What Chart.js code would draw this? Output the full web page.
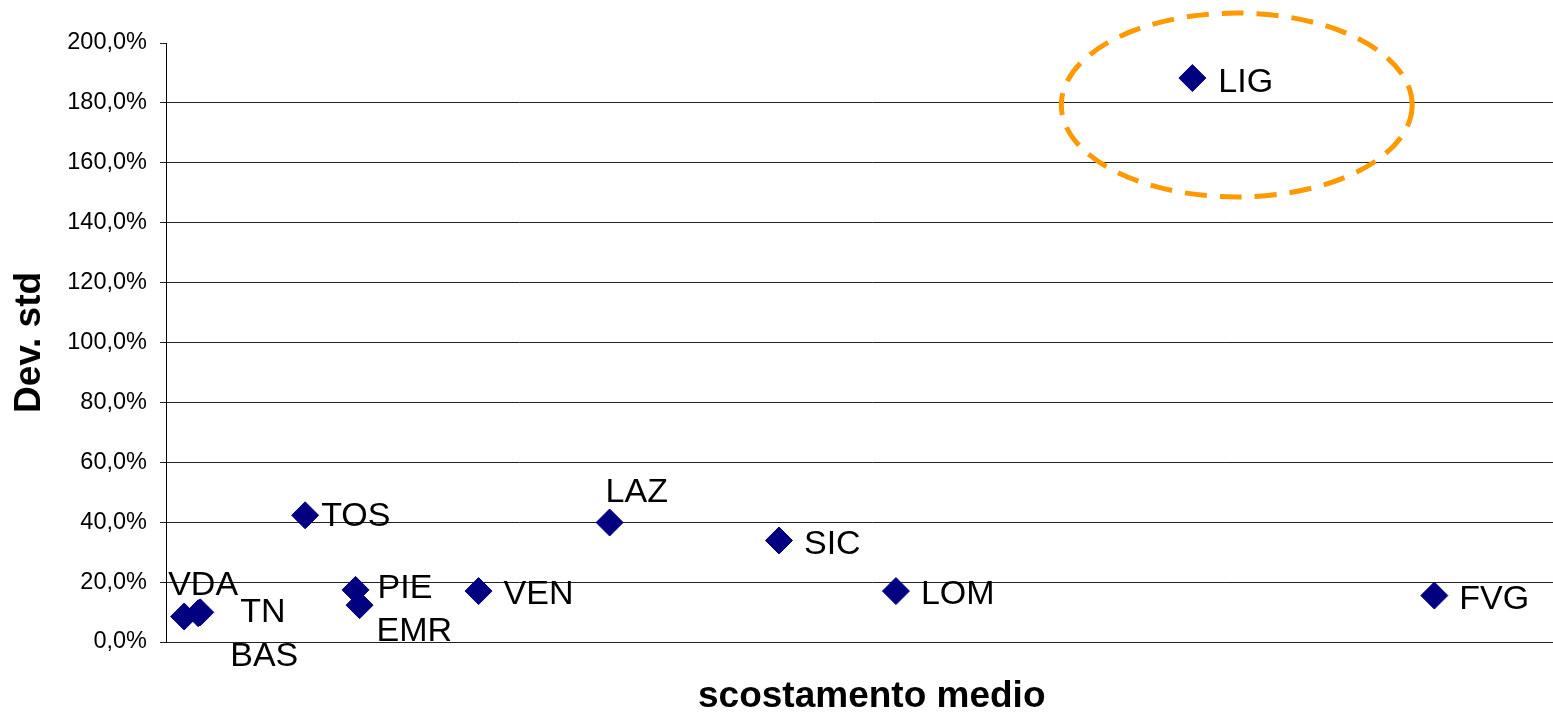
<!DOCTYPE html>
<html>
<head>
<meta charset="utf-8">
<script src="https://cdn.jsdelivr.net/npm/chart.js@4/dist/chart.umd.min.js"></script>
<style>
  html, body { margin: 0; padding: 0; background: #fff; overflow: hidden; }
  #wrap { width: 1553px; height: 714px; overflow: hidden; }
  canvas { display: block; }
</style>
</head>
<body>
<div id="wrap"><canvas id="chart" width="1592" height="714"></canvas></div>
<script>
// Regional values: mean deviation (x, %) vs standard deviation (y, %)
const regions = ['VDA', 'TN', 'BAS', 'TOS', 'PIE', 'EMR', 'VEN', 'LAZ', 'SIC', 'LOM', 'FVG', 'LIG'];
const scostamentoMedio = [0.9, 1.7, 1.6, 6.9, 9.4, 9.6, 15.5, 22.0, 30.4, 36.2, 62.9, 50.9];
const devStd = [8.5, 9.9, 9.6, 42.3, 17.4, 12.3, 17.0, 39.9, 33.9, 17.0, 15.5, 188.3];
const yTicks = [0, 20, 40, 60, 80, 100, 120, 140, 160, 180, 200];
const xRange = [0, 70];

// Outlier highlight, in data units
const highlight = { cx: 53.1, cy: 179.3, rx: 8.7, ry: 30.7 };

// Label placement relative to each marker (px): [dx to text start, dy to text middle]
const labelDefault = [25, 4];
const labelPlacement = {
  VDA: [-16, -31],
  TN: [40, 0],
  BAS: [32, 43],
  TOS: [16, 1],
  PIE: [22, -1],
  EMR: [17, 26],
  LAZ: [-4, -30],
  LIG: [26, 5]
};

const FONT = "'Liberation Sans', Arial, sans-serif";

const fmtPct = v => v.toFixed(1).replace('.', ',') + '%';

const pointLabels = {
  id: 'pointLabels',
  afterDatasetsDraw(chart) {
    const ctx = chart.ctx;
    const meta = chart.getDatasetMeta(0);
    ctx.save();
    ctx.fillStyle = '#000';
    ctx.font = '34px ' + FONT;
    ctx.textAlign = 'left';
    ctx.textBaseline = 'middle';
    meta.data.forEach((el, i) => {
      const name = regions[i];
      const [dx, dy] = labelPlacement[name] || labelDefault;
      ctx.fillText(name, el.x + dx, el.y + dy);
    });
    ctx.restore();
  }
};

const outlierRing = {
  id: 'outlierRing',
  afterDraw(chart) {
    const { ctx, scales: { x, y } } = chart;
    const cx = x.getPixelForValue(highlight.cx);
    const cy = y.getPixelForValue(highlight.cy);
    const rx = Math.abs(x.getPixelForValue(highlight.cx + highlight.rx) - cx);
    const ry = Math.abs(y.getPixelForValue(highlight.cy + highlight.ry) - cy);
    ctx.save();
    ctx.strokeStyle = '#FF9900';
    ctx.lineWidth = 5;
    ctx.setLineDash([22, 13]);
    ctx.beginPath();
    ctx.ellipse(cx, cy, rx, ry, 0, 0, Math.PI * 2);
    ctx.stroke();
    ctx.restore();
  }
};

new Chart(document.getElementById('chart'), {
  type: 'scatter',
  data: {
    datasets: [{
      label: 'Regioni',
      data: regions.map((r, i) => ({ x: scostamentoMedio[i], y: devStd[i] })),
      pointStyle: 'rectRot',
      pointRadius: 13.5,
      pointHoverRadius: 13.5,
      backgroundColor: '#000080',
      borderColor: '#000080',
      borderWidth: 1
    }]
  },
  options: {
    responsive: false,
    animation: false,
    events: [],
    layout: { padding: { top: 43, left: 0, right: 0, bottom: 0 } },
    plugins: {
      legend: { display: false },
      tooltip: { enabled: false }
    },
    scales: {
      x: {
        type: 'linear',
        min: xRange[0],
        max: xRange[1],
        grid: { display: false },
        border: { display: true, color: '#222', width: 1 },
        ticks: { display: false },
        title: {
          display: true,
          text: 'scostamento medio',
          color: '#000',
          font: { family: FONT, size: 37, weight: 'bold' },
          padding: { top: 0, bottom: -5 }
        },
        afterFit(scale) { scale.height = 72; }
      },
      y: {
        type: 'linear',
        min: yTicks[0],
        max: yTicks[yTicks.length - 1],
        afterBuildTicks(scale) { scale.ticks = yTicks.map(v => ({ value: v })); },
        grid: {
          color: ctx => (ctx.tick && ctx.tick.value === yTicks[yTicks.length - 1]) ? 'rgba(0,0,0,0)' : '#222',
          tickColor: '#222',
          tickLength: 6,
          lineWidth: 1
        },
        border: { display: true, color: '#000', width: 1 },
        ticks: {
          color: '#000',
          font: { family: FONT, size: 23.5 },
          padding: 13,
          callback: v => fmtPct(v)
        },
        title: {
          display: true,
          text: 'Dev. std',
          color: '#000',
          font: { family: FONT, size: 37, weight: 'bold' },
          padding: { top: 8, bottom: 0 }
        },
        afterFit(scale) { scale.width = 166; }
      }
    }
  },
  plugins: [pointLabels, outlierRing]
});
</script>
</body>
</html>
